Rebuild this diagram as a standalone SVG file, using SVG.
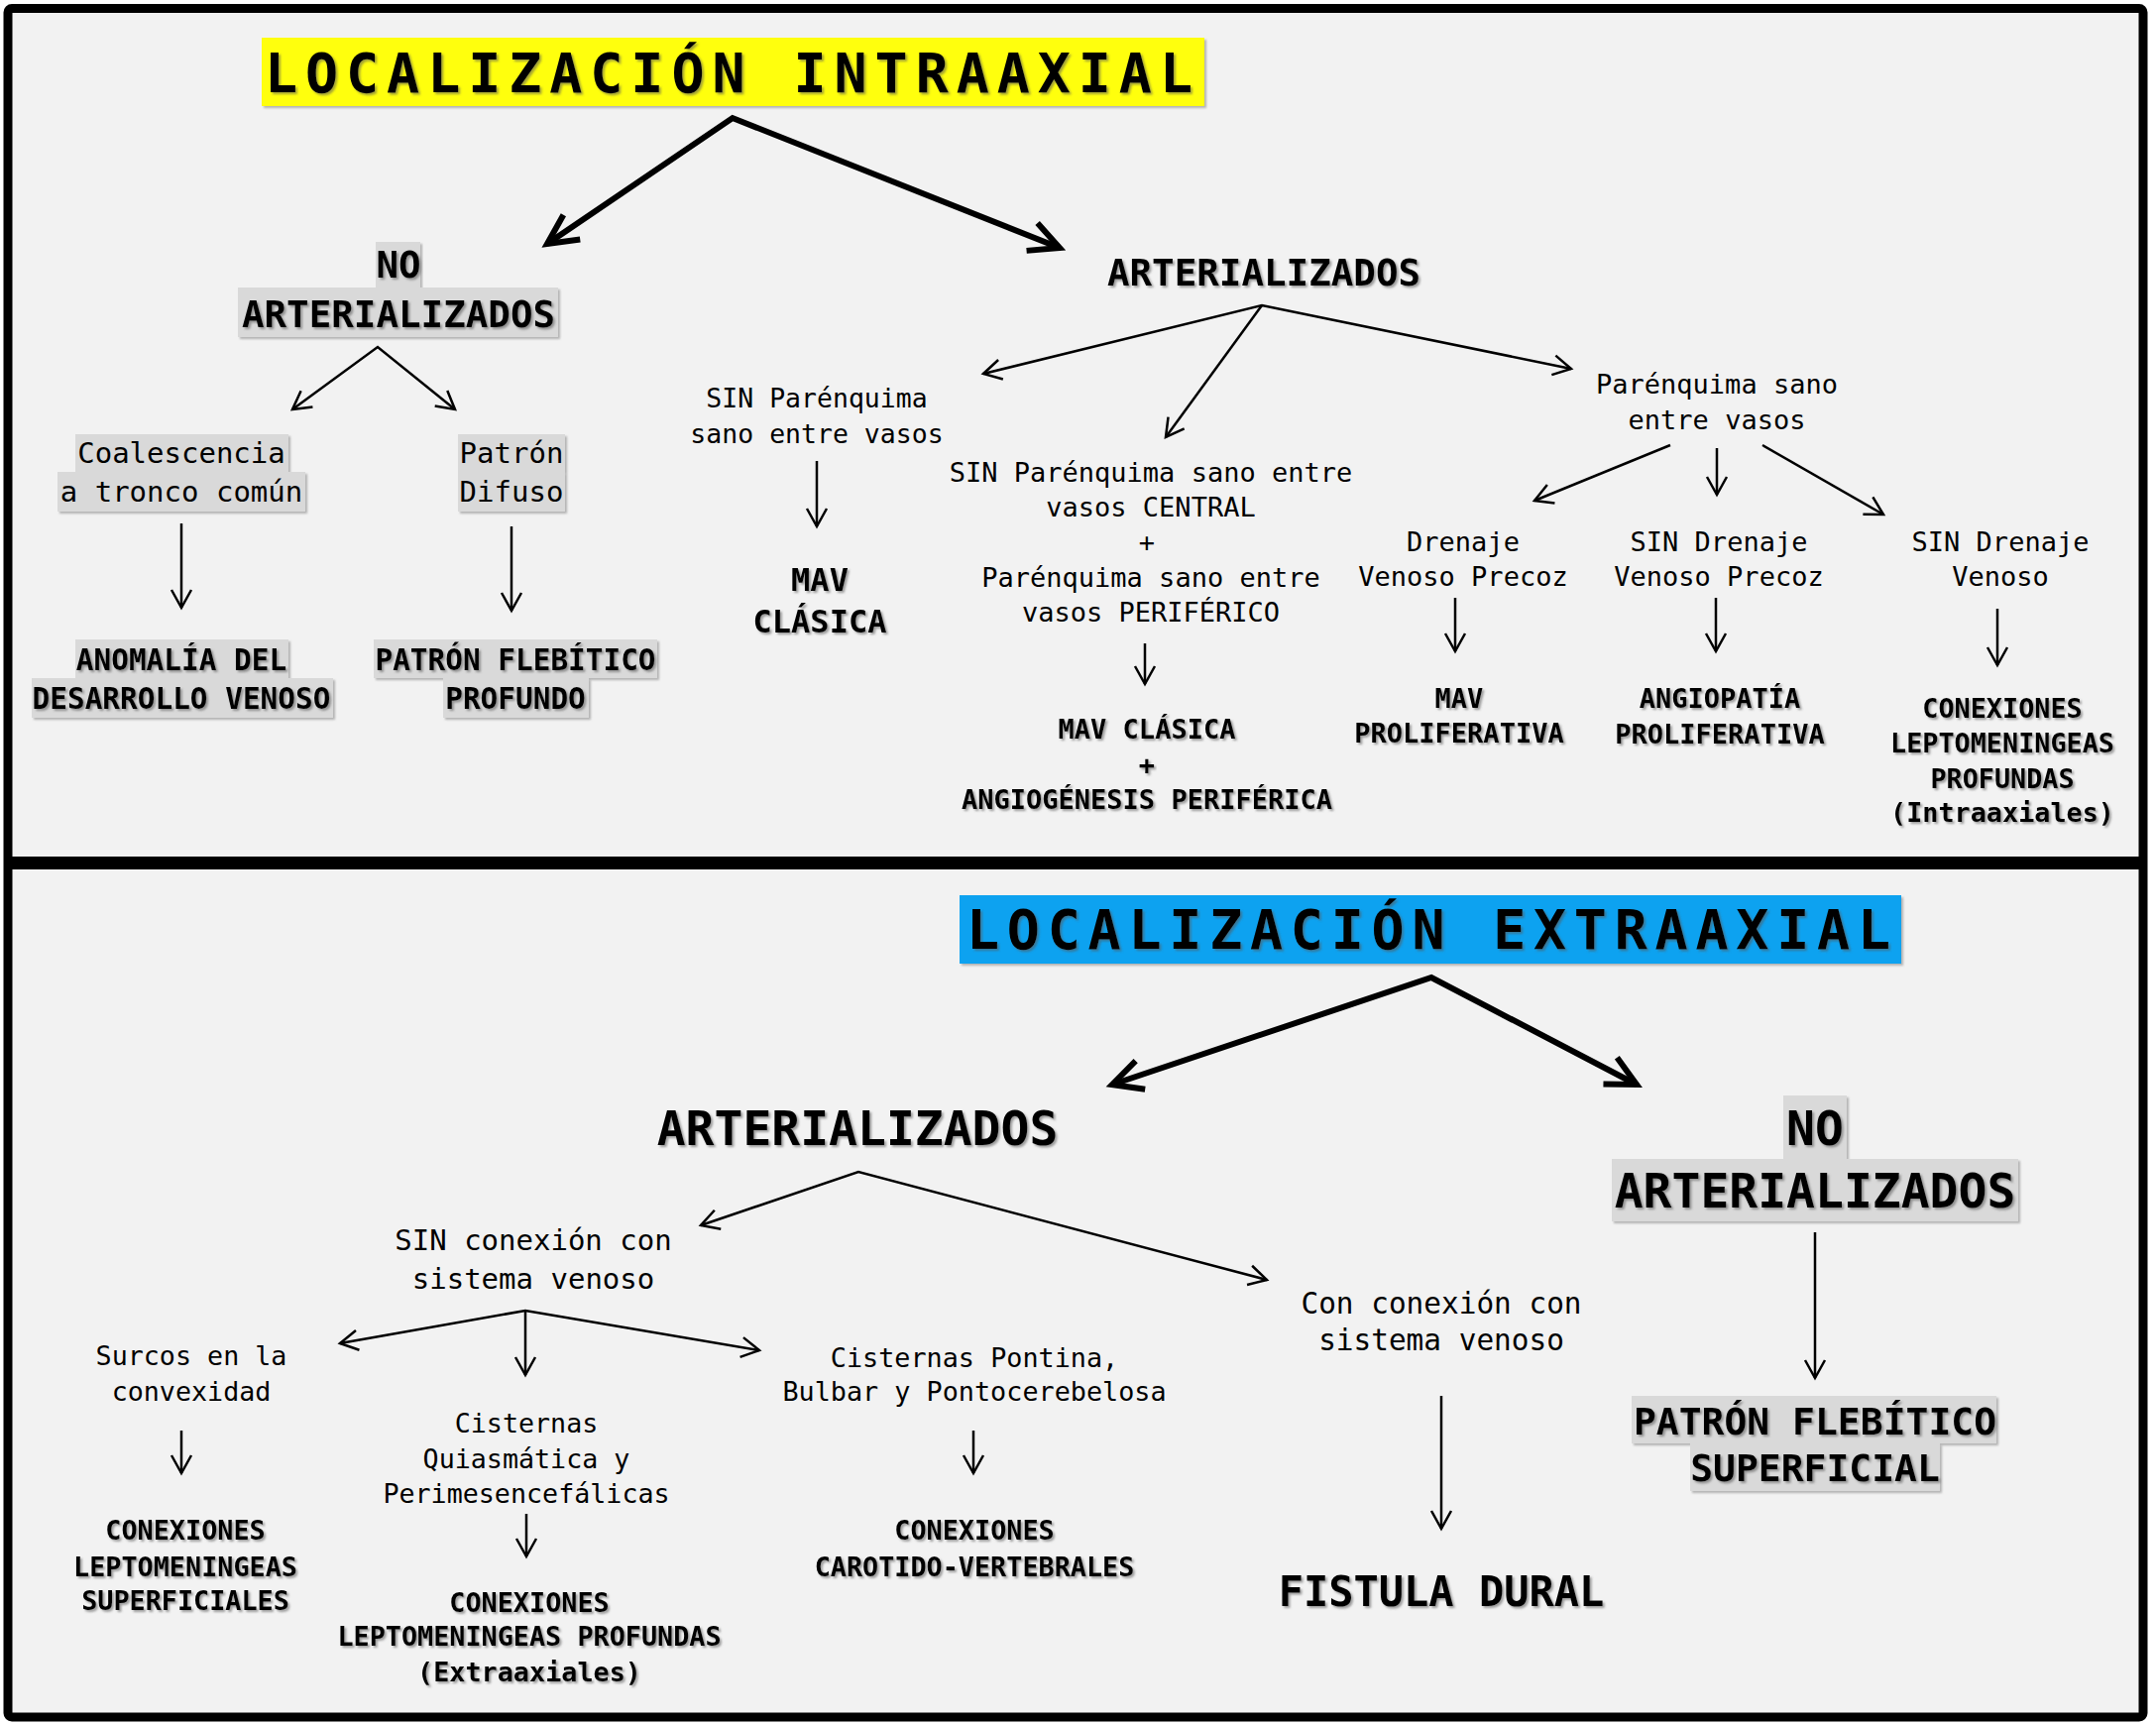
<svg xmlns="http://www.w3.org/2000/svg" width="2175" height="1740" viewBox="0 0 2175 1740">
<defs>
<style>
text{font-family:"DejaVu Sans Mono","Liberation Mono",monospace;fill:#000;text-anchor:middle}
.b{font-weight:bold;filter:url(#ts)}
.hl{fill:#d9d9d9;filter:url(#bs)}
.c{fill:none;stroke:#000;stroke-width:2.5;marker-end:url(#ah)}
.cs{marker-start:url(#ah)}
.t{fill:none;stroke:#000;stroke-width:6;stroke-linejoin:miter;marker-start:url(#ahb);marker-end:url(#ahb)}
.ttl{font-weight:bold;text-anchor:start;filter:url(#ts)}
</style>
<filter id="ts" x="-10%" y="-30%" width="120%" height="160%">
<feDropShadow dx="2" dy="2" stdDeviation="1.3" flood-color="#555" flood-opacity="0.55"/>
</filter>
<filter id="bs" x="-5%" y="-10%" width="110%" height="130%">
<feDropShadow dx="2" dy="2" stdDeviation="1" flood-color="#888" flood-opacity="0.6"/>
</filter>
<marker id="ah" viewBox="-20 -12 24 24" refX="0" refY="0" markerWidth="24" markerHeight="24" markerUnits="userSpaceOnUse" orient="auto-start-reverse">
<path d="M-18,-10 L0,0 L-18,10" fill="none" stroke="#000" stroke-width="2.5"/>
</marker>
<marker id="ahb" viewBox="-36 -20 46 40" refX="0" refY="0" markerWidth="46" markerHeight="40" markerUnits="userSpaceOnUse" orient="auto-start-reverse">
<path d="M-30,-15 L0,0 L-30,15" fill="none" stroke="#000" stroke-width="6"/>
</marker>
</defs>

<rect x="0" y="0" width="2175" height="1740" fill="#ffffff"/>
<rect x="8" y="8.5" width="2154" height="1723.5" rx="4" fill="#f2f2f2" stroke="#000" stroke-width="9"/>
<rect x="8" y="864" width="2154" height="13" fill="#000"/>

<g id="connectors">
<polyline class="t" points="552,246 739,119 1069,250"/>
<polyline class="c cs" points="295,413 381,350 459,413"/>
<line class="c" x1="183" y1="528" x2="183" y2="613"/>
<line class="c" x1="516" y1="531" x2="516" y2="616"/>
<polyline class="c cs" points="992,377 1273,308 1585,372"/>
<line class="c" x1="1273" y1="308" x2="1176" y2="441"/>
<line class="c" x1="824" y1="465" x2="824" y2="531"/>
<line class="c" x1="1155" y1="649" x2="1155" y2="690"/>
<line class="c" x1="1685" y1="449" x2="1548" y2="505"/>
<line class="c" x1="1732" y1="452" x2="1732" y2="499"/>
<line class="c" x1="1778" y1="449" x2="1900" y2="519"/>
<line class="c" x1="1468" y1="603" x2="1468" y2="657"/>
<line class="c" x1="1731" y1="603" x2="1731" y2="657"/>
<line class="c" x1="2015" y1="614" x2="2015" y2="671"/>

<polyline class="t" points="1122,1094 1444,986 1651,1094"/>
<polyline class="c cs" points="707,1236 866,1182 1278,1291"/>
<line class="c" x1="1831" y1="1243" x2="1831" y2="1390"/>
<polyline class="c cs" points="343,1355 530,1322 766,1362"/>
<line class="c" x1="530" y1="1322" x2="530" y2="1387"/>
<line class="c" x1="183" y1="1443" x2="183" y2="1486"/>
<line class="c" x1="531" y1="1527" x2="531" y2="1570"/>
<line class="c" x1="982" y1="1443" x2="982" y2="1486"/>
<line class="c" x1="1454" y1="1408" x2="1454" y2="1542"/>
</g>

<g id="title-intraaxial">
<rect x="264" y="38" width="951" height="69" fill="#ffff10" filter="url(#bs)"/>
<text class="ttl" x="267" y="93" font-size="55" textLength="936" lengthAdjust="spacing">LOCALIZACIÓN INTRAAXIAL</text>
</g>

<g id="no-arterializados-intra">
<rect class="hl" x="379" y="244" width="45" height="46"/>
<rect class="hl" x="240" y="290" width="323" height="50"/>
<text class="b" x="402" y="280" font-size="37.5">NO</text>
<text class="b" x="402" y="330" font-size="37.5">ARTERIALIZADOS</text>
</g>

<g id="coalescencia">
<rect class="hl" x="76" y="438" width="215" height="38"/>
<rect class="hl" x="58" y="476" width="250" height="40"/>
<text x="183" y="467" font-size="29">Coalescencia</text>
<text x="183" y="506" font-size="29">a tronco común</text>
</g>

<g id="patron-difuso">
<rect class="hl" x="462" y="438" width="108" height="38"/>
<rect class="hl" x="462" y="476" width="108" height="40"/>
<text x="516" y="467" font-size="29">Patrón</text>
<text x="516" y="506" font-size="29">Difuso</text>
</g>

<g id="anomalia">
<rect class="hl" x="76" y="645" width="215" height="39"/>
<rect class="hl" x="32" y="684" width="304" height="40"/>
<text class="b" x="183" y="676" font-size="29.4">ANOMALÍA DEL</text>
<text class="b" x="183" y="715" font-size="29.4">DESARROLLO VENOSO</text>
</g>

<g id="patron-flebitico-profundo">
<rect class="hl" x="377" y="645" width="286" height="39"/>
<rect class="hl" x="447" y="684" width="147" height="40"/>
<text class="b" x="520" y="676" font-size="29.4">PATRÓN FLEBÍTICO</text>
<text class="b" x="520" y="715" font-size="29.4">PROFUNDO</text>
</g>

<g id="arterializados-intra">
<text class="b" x="1275" y="288" font-size="37.5">ARTERIALIZADOS</text>
</g>

<g id="sin-parenquima">
<text x="824" y="411" font-size="26.5">SIN Parénquima</text>
<text x="824" y="447" font-size="26.5">sano entre vasos</text>
</g>

<g id="mav-clasica">
<text class="b" x="827" y="596" font-size="32">MAV</text>
<text class="b" x="827" y="638" font-size="32">CLÁSICA</text>
</g>

<g id="sin-parenquima-central">
<text x="1161" y="486" font-size="27">SIN Parénquima sano entre</text>
<text x="1161" y="521" font-size="27">vasos CENTRAL</text>
<text x="1157" y="556" font-size="27">+</text>
<text x="1161" y="592" font-size="27">Parénquima sano entre</text>
<text x="1161" y="627" font-size="27">vasos PERIFÉRICO</text>
</g>

<g id="mav-angiogenesis">
<text class="b" x="1157" y="745" font-size="27">MAV CLÁSICA</text>
<text class="b" x="1157" y="781" font-size="27">+</text>
<text class="b" x="1157" y="816" font-size="27">ANGIOGÉNESIS PERIFÉRICA</text>
</g>

<g id="parenquima-sano">
<text x="1732" y="397" font-size="27">Parénquima sano</text>
<text x="1732" y="433" font-size="27">entre vasos</text>
</g>

<g id="drenaje-precoz">
<text x="1476" y="556" font-size="27">Drenaje</text>
<text x="1476" y="591" font-size="27">Venoso Precoz</text>
</g>

<g id="mav-proliferativa">
<text class="b" x="1472" y="714" font-size="27">MAV</text>
<text class="b" x="1472" y="749" font-size="27">PROLIFERATIVA</text>
</g>

<g id="sin-drenaje-precoz">
<text x="1734" y="556" font-size="27">SIN Drenaje</text>
<text x="1734" y="591" font-size="27">Venoso Precoz</text>
</g>

<g id="angiopatia">
<text class="b" x="1735" y="714" font-size="27">ANGIOPATÍA</text>
<text class="b" x="1735" y="750" font-size="27">PROLIFERATIVA</text>
</g>

<g id="sin-drenaje-venoso">
<text x="2018" y="556" font-size="27">SIN Drenaje</text>
<text x="2018" y="591" font-size="27">Venoso</text>
</g>

<g id="conexiones-profundas-intra">
<text class="b" x="2020" y="724" font-size="26.8">CONEXIONES</text>
<text class="b" x="2020" y="759" font-size="26.8">LEPTOMENINGEAS</text>
<text class="b" x="2020" y="795" font-size="26.8">PROFUNDAS</text>
<text class="b" x="2020" y="829" font-size="26.8">(Intraaxiales)</text>
</g>

<g id="title-extraaxial">
<rect x="968" y="903" width="950" height="69" fill="#0aa2f0" filter="url(#bs)"/>
<text class="ttl" x="975" y="957" font-size="55" textLength="932" lengthAdjust="spacing">LOCALIZACIÓN EXTRAAXIAL</text>
</g>

<g id="arterializados-extra">
<text class="b" x="865" y="1155" font-size="48">ARTERIALIZADOS</text>
</g>

<g id="no-arterializados-extra">
<rect class="hl" x="1799" y="1105" width="64" height="64"/>
<rect class="hl" x="1626" y="1169" width="410" height="63"/>
<text class="b" x="1831" y="1155" font-size="48">NO</text>
<text class="b" x="1831" y="1218" font-size="48">ARTERIALIZADOS</text>
</g>

<g id="patron-flebitico-superficial">
<rect class="hl" x="1646" y="1408" width="368" height="48"/>
<rect class="hl" x="1705" y="1456" width="252" height="48"/>
<text class="b" x="1831" y="1447" font-size="38">PATRÓN FLEBÍTICO</text>
<text class="b" x="1831" y="1494" font-size="38">SUPERFICIAL</text>
</g>

<g id="sin-conexion">
<text x="538" y="1261" font-size="29">SIN conexión con</text>
<text x="538" y="1300" font-size="29">sistema venoso</text>
</g>

<g id="surcos">
<text x="193" y="1377" font-size="26.7">Surcos en la</text>
<text x="193" y="1413" font-size="26.7">convexidad</text>
</g>

<g id="conexiones-superficiales">
<text class="b" x="187" y="1553" font-size="26.8">CONEXIONES</text>
<text class="b" x="187" y="1590" font-size="26.8">LEPTOMENINGEAS</text>
<text class="b" x="187" y="1624" font-size="26.8">SUPERFICIALES</text>
</g>

<g id="cisternas-quiasmatica">
<text x="531" y="1445" font-size="26.7">Cisternas</text>
<text x="531" y="1481" font-size="26.7">Quiasmática y</text>
<text x="531" y="1516" font-size="26.7">Perimesencefálicas</text>
</g>

<g id="conexiones-profundas-extra">
<text class="b" x="534" y="1626" font-size="26.8">CONEXIONES</text>
<text class="b" x="534" y="1660" font-size="26.8">LEPTOMENINGEAS PROFUNDAS</text>
<text class="b" x="534" y="1696" font-size="26.8">(Extraaxiales)</text>
</g>

<g id="cisternas-pontina">
<text x="983" y="1379" font-size="26.8">Cisternas Pontina,</text>
<text x="983" y="1413" font-size="26.8">Bulbar y Pontocerebelosa</text>
</g>

<g id="conexiones-carotido">
<text class="b" x="983" y="1553" font-size="26.8">CONEXIONES</text>
<text class="b" x="983" y="1590" font-size="26.8">CAROTIDO-VERTEBRALES</text>
</g>

<g id="con-conexion">
<text x="1454" y="1325" font-size="29.4">Con conexión con</text>
<text x="1454" y="1362" font-size="29.4">sistema venoso</text>
</g>

<g id="fistula-dural">
<text class="b" x="1454" y="1620" font-size="42">FISTULA DURAL</text>
</g>
</svg>
